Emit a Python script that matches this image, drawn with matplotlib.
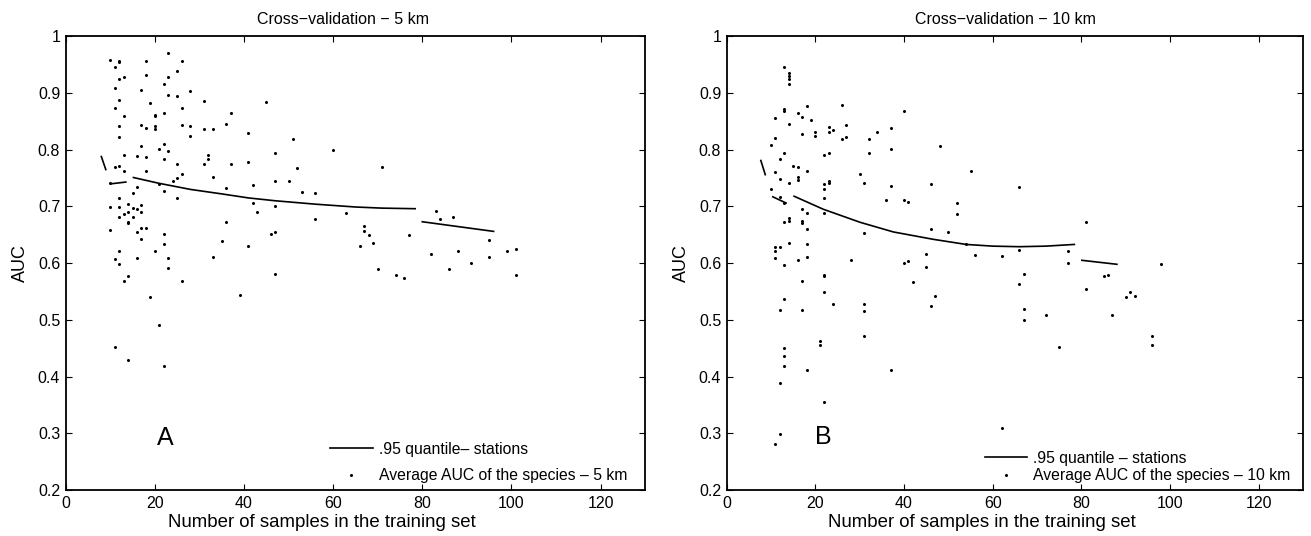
import numpy as np
import matplotlib
matplotlib.use("Agg")
import matplotlib.pyplot as plt
from matplotlib.ticker import FuncFormatter

# ---- data ----
# panel A : cross-validation 5 km
x_5km = [10, 11, 12, 12, 18, 23, 26,
         12, 13, 18, 23, 25, 22,
         11, 17, 23, 25, 28,
         12, 19, 31, 45,
         11, 26, 22, 20, 20, 37, 13,
         12, 17, 18, 20, 20, 26, 28, 31, 33, 36,
         28, 41, 12, 51,
         17, 22, 21, 23, 60,
         13, 16, 18, 22, 32, 32,
         31, 25, 37, 41, 47,
         11, 12, 52, 13, 18, 26,
         25, 33, 24, 10, 16, 21, 42, 47, 50,
         36, 15, 22, 53, 56,
         12, 25, 42,
         10, 12, 14, 15, 16, 17, 17, 14, 13, 12, 15, 14, 14,
         43, 47, 63, 56, 36,
         10, 16, 17, 18, 22, 46, 47, 17, 35, 22, 41, 66,
         12, 20, 11, 16, 23, 33,
         12, 14, 23, 13, 26, 47, 19, 39, 21, 11, 14, 22,
         71, 67, 67, 68, 69, 77, 70, 74, 76, 83, 84, 87, 82, 88, 86, 91,
         95, 95, 99, 101, 101]
auc_5km = [0.959, 0.945, 0.957, 0.955, 0.957, 0.970, 0.956,
           0.924, 0.928, 0.931, 0.928, 0.938, 0.915,
           0.908, 0.905, 0.897, 0.894, 0.904,
           0.888, 0.883, 0.886, 0.885,
           0.874, 0.874, 0.865, 0.862, 0.860, 0.865, 0.860,
           0.841, 0.844, 0.839, 0.842, 0.837, 0.844, 0.841, 0.836, 0.836, 0.846,
           0.824, 0.829, 0.822, 0.819,
           0.807, 0.810, 0.802, 0.798, 0.799,
           0.791, 0.789, 0.788, 0.783, 0.791, 0.783,
           0.774, 0.775, 0.775, 0.778, 0.794,
           0.769, 0.771, 0.768, 0.762, 0.762, 0.758,
           0.750, 0.752, 0.744, 0.742, 0.735, 0.740, 0.737, 0.745, 0.745,
           0.732, 0.724, 0.727, 0.725, 0.724,
           0.715, 0.715, 0.706,
           0.699, 0.699, 0.704, 0.698, 0.695, 0.703, 0.690, 0.691, 0.686, 0.681, 0.681, 0.673, 0.671,
           0.691, 0.701, 0.688, 0.678, 0.673,
           0.658, 0.655, 0.662, 0.662, 0.651, 0.651, 0.655, 0.642, 0.639, 0.634, 0.631, 0.630,
           0.622, 0.622, 0.607, 0.609, 0.609, 0.611,
           0.598, 0.578, 0.591, 0.569, 0.569, 0.580, 0.541, 0.543, 0.491, 0.452, 0.429, 0.418,
           0.769, 0.665, 0.657, 0.649, 0.635, 0.649, 0.589, 0.579, 0.574, 0.692, 0.678, 0.682, 0.616, 0.622, 0.589, 0.601,
           0.641, 0.611, 0.622, 0.625, 0.579]

# .95 quantile, drawn as separate pieces
q_5km_x = [[8, 9], [10.3, 13.5],
           [15.2, 20.8, 28, 35.1, 41, 47, 56, 65, 71, 78.4],
           [80, 96]]
q_5km_y = [[0.788, 0.765], [0.740, 0.743],
           [0.751, 0.741, 0.730, 0.722, 0.715, 0.710, 0.704, 0.699, 0.697, 0.696],
           [0.673, 0.656]]

# panel B : cross-validation 10 km
x_10km = [13, 14, 14, 14, 14,
          13, 13, 11, 16, 18, 17, 19, 14, 26,
          17, 20, 20, 23, 23, 24, 27, 26, 27, 32, 34, 37, 40,
          11, 10, 13, 22, 23, 32, 37, 48,
          12, 15, 16, 18, 11, 12, 16, 16, 14, 23, 23, 22, 22, 30, 31, 37, 55, 46,
          10, 22, 36, 40, 41, 12, 13,
          17, 18, 22, 13, 14, 14, 17, 17, 18, 31, 46, 50, 52, 52,
          14, 18, 11, 12, 11, 54, 45, 56,
          11, 13, 16, 18, 28, 40, 41, 45, 42, 17, 22, 22, 22, 13, 24, 31, 31, 12, 17, 47, 46,
          21, 21, 31, 13, 13, 13, 18, 37, 12, 22, 12, 11,
          66, 81, 62, 66, 77, 77, 67, 66, 67, 67, 72, 75, 81, 85, 86, 90, 91, 92, 87,
          98, 96, 96, 62]
auc_10km = [0.946, 0.935, 0.930, 0.925, 0.915,
            0.871, 0.869, 0.856, 0.864, 0.877, 0.858, 0.853, 0.845, 0.878,
            0.828, 0.831, 0.825, 0.840, 0.832, 0.834, 0.844, 0.819, 0.822, 0.819, 0.832, 0.838, 0.869,
            0.820, 0.808, 0.795, 0.791, 0.795, 0.795, 0.802, 0.807,
            0.783, 0.771, 0.769, 0.762, 0.761, 0.749, 0.752, 0.747, 0.742, 0.744, 0.742, 0.739, 0.731, 0.758, 0.741, 0.736, 0.763, 0.740,
            0.730, 0.714, 0.712, 0.711, 0.708, 0.716, 0.706,
            0.695, 0.689, 0.689, 0.672, 0.679, 0.675, 0.674, 0.670, 0.660, 0.653, 0.661, 0.655, 0.706, 0.687,
            0.636, 0.633, 0.628, 0.628, 0.621, 0.633, 0.616, 0.615,
            0.609, 0.596, 0.606, 0.611, 0.606, 0.601, 0.603, 0.593, 0.566, 0.569, 0.579, 0.577, 0.549, 0.537, 0.528, 0.528, 0.516, 0.517, 0.518, 0.542, 0.524,
            0.463, 0.455, 0.471, 0.450, 0.436, 0.418, 0.412, 0.412, 0.388, 0.356, 0.298, 0.282,
            0.734, 0.672, 0.612, 0.624, 0.622, 0.601, 0.580, 0.564, 0.520, 0.499, 0.508, 0.452, 0.555, 0.577, 0.579, 0.540, 0.549, 0.542, 0.509,
            0.599, 0.472, 0.456, 0.310]

q_10km_x = [[7.7, 8.7], [10.4, 13.4],
            [15.2, 21.8, 30.1, 37.6, 46.6, 54, 60, 66, 72, 78.4],
            [80.1, 88]]
q_10km_y = [[0.781, 0.756], [0.717, 0.706],
            [0.718, 0.695, 0.672, 0.655, 0.642, 0.633, 0.630, 0.629, 0.630, 0.633],
            [0.605, 0.598]]

titles = ["Cross\u2212validation \u2212 5 km", "Cross\u2212validation \u2212 10 km"]
line_labels = [".95 quantile\u2013 stations", ".95 quantile \u2013 stations"]
dot_labels = ["Average AUC of the species \u2013 5 km", "Average AUC of the species \u2013 10 km"]
panel_tags = ["A", "B"]
tag_pos = [(22.3, 0.292), (21.8, 0.294)]

# layout tweaks per panel (the original is a bit off-centre, MATLAB style)
title_x = [0.478, 0.483]
xlabel_x = [0.442, 0.443]
legend_anchor = [(0.988, -0.009), (0.997, -0.009)]
legend_spacing = [0.72, 0.15]

plt.rcParams['font.family'] = ['Liberation Sans', 'DejaVu Sans']

fig = plt.figure(figsize=(13.11, 5.36), dpi=100)
ax_a = fig.add_axes([0.0501, 0.0858, 0.4420, 0.8465])
ax_b = fig.add_axes([0.5543, 0.0858, 0.4397, 0.8465])

panels = [(ax_a, x_5km, auc_5km, q_5km_x, q_5km_y),
          (ax_b, x_10km, auc_10km, q_10km_x, q_10km_y)]

for i, (ax, xs, ys, qx, qy) in enumerate(panels):
    for j, (sx, sy) in enumerate(zip(qx, qy)):
        ax.plot(sx, sy, color='black', lw=1.2,
                label=line_labels[i] if j == 2 else None)
    ax.plot(xs, ys, linestyle='none', marker='o', ms=2.2, mew=0,
            color='black', label=dot_labels[i])

    ax.set_xlim(0, 130)
    ax.set_ylim(0.2, 1.0)
    ax.set_xticks(np.arange(0, 121, 20))
    ax.set_yticks(np.arange(0.2, 1.01, 0.1))
    ax.yaxis.set_major_formatter(FuncFormatter(lambda v, p: "%g" % round(v, 1)))
    ax.tick_params(direction='in', length=4.5, width=0.8, top=True, right=True,
                   labelsize=11.5, pad=4)
    for s in ax.spines.values():
        s.set_linewidth(1.3)

    ax.set_title(titles[i], fontsize=11.5, pad=8.5, x=title_x[i])
    ax.set_xlabel("Number of samples in the training set", fontsize=13.4)
    ax.xaxis.set_label_coords(xlabel_x[i], -0.052)
    ax.set_ylabel("AUC", fontsize=13, labelpad=6)
    ax.text(tag_pos[i][0], tag_pos[i][1], panel_tags[i], fontsize=18,
            ha='center', va='center')

    ax.legend(loc='lower right', bbox_to_anchor=legend_anchor[i], frameon=False,
              fontsize=11.3, handlelength=2.7, handletextpad=0.4,
              labelspacing=legend_spacing[i], borderaxespad=0.3)

fig.savefig("out.png", dpi=100)
